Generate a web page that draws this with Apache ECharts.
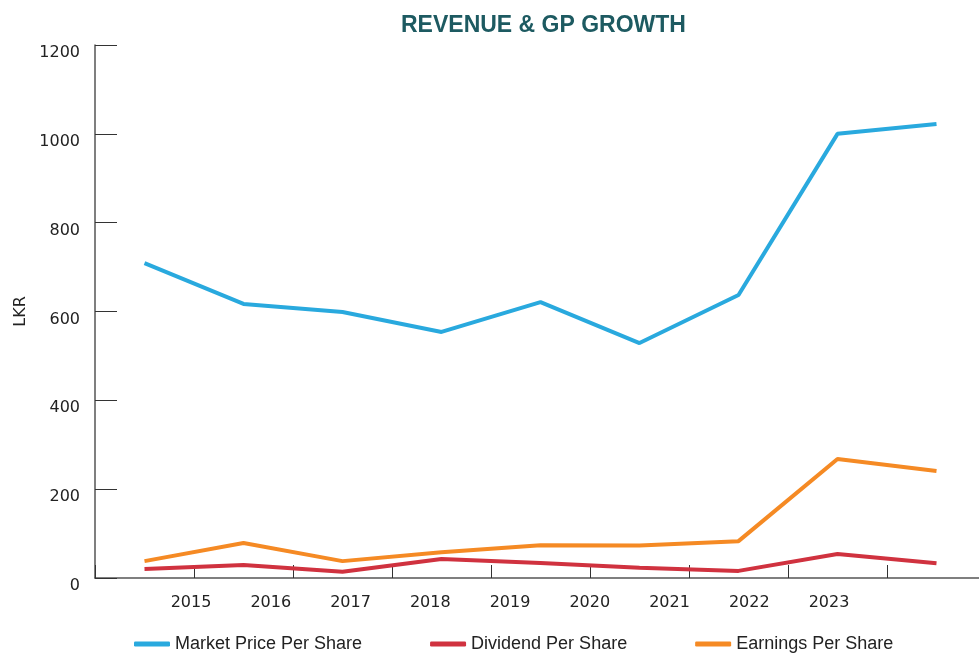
<!DOCTYPE html>
<html>
<head>
<meta charset="utf-8">
<script src="https://cdn.jsdelivr.net/npm/echarts@6/dist/echarts.min.js"></script>
<style>html,body{margin:0;padding:0;background:#fff;overflow:hidden;}#c{width:986px;height:654px;}</style>
</head>
<body>
<div id="c"></div>
<script>
const pointSlots = ['p1','p2','p3','p4','p5','p6','p7','p8','p9'];
const yearLabels = ['2015','2016','2017','2018','2019','2020','2021','2022','2023'];
const marketPrice = [709, 617, 599, 554, 621, 529, 637, 1000, 1022];
const dividend = [20, 29, 14, 43, 34, 23, 16, 54, 33];
const earnings = [38, 79, 38, 58, 74, 73, 83, 268, 241];
const seriesNames = ['Market Price Per Share', 'Dividend Per Share', 'Earnings Per Share'];
const yTicks = {min: 0, max: 1200, interval: 200};

const chart = echarts.init(document.getElementById('c'), null, {renderer: 'canvas'});
const tickFont = 'DejaVu Sans';
chart.setOption({
  backgroundColor: '#ffffff',
  animation: false,
  title: {
    text: 'REVENUE & GP GROWTH',
    left: 396, top: 9,
    textStyle: {fontFamily: 'Liberation Sans', fontWeight: 'bold', fontSize: 23, color: '#1d5a61'}
  },
  legend: {
    top: 630, left: 129,
    itemWidth: 36, itemHeight: 5, itemGap: 68,
    icon: 'roundRect',
    textStyle: {fontFamily: 'Liberation Sans', fontSize: 18, color: '#222'},
    data: seriesNames
  },
  grid: [
    {left: 95, right: 0, top: 45, bottom: 76},
    {left: 191, width: 638, top: 45, bottom: 76}
  ],
  xAxis: [
    {
      type: 'category', gridIndex: 0, data: pointSlots, boundaryGap: true,
      axisLine: {lineStyle: {color: '#555', width: 1.5}},
      axisTick: {show: true, interval: 0, inside: true, length: 13, lineStyle: {color: '#333', width: 1}},
      axisLabel: {show: true, interval: 0, color: 'rgba(0,0,0,0)', formatter: () => ''}
    },
    {
      type: 'category', gridIndex: 1, data: yearLabels, boundaryGap: false,
      axisLine: {show: false}, axisTick: {show: false},
      axisLabel: {margin: 17, fontFamily: tickFont, fontSize: 16, color: '#222', interval: 0}
    }
  ],
  yAxis: [
    {
      type: 'value', gridIndex: 0, min: yTicks.min, max: yTicks.max, interval: yTicks.interval,
      name: 'LKR', nameLocation: 'middle', nameGap: 55, nameRotate: 90,
      nameTextStyle: {fontFamily: tickFont, fontSize: 16, color: '#222'},
      axisLine: {show: true, lineStyle: {color: '#555', width: 1.5}},
      axisTick: {show: true, inside: true, length: 22, lineStyle: {color: '#333', width: 1}},
      splitLine: {show: false},
      axisLabel: {margin: 15, fontFamily: tickFont, fontSize: 16, color: '#222',
                  verticalAlign: 'top', lineHeight: 16, formatter: v => String(v)}
    },
    {
      type: 'value', gridIndex: 1, min: 0, max: 1200, show: false
    }
  ],
  series: [
    {name: seriesNames[0], type: 'line', data: marketPrice, xAxisIndex: 0, yAxisIndex: 0,
     symbol: 'none', lineStyle: {width: 4, color: '#29a9de'}, itemStyle: {color: '#29a9de'}},
    {name: seriesNames[1], type: 'line', data: dividend, xAxisIndex: 0, yAxisIndex: 0,
     symbol: 'none', lineStyle: {width: 4, color: '#d0323f'}, itemStyle: {color: '#d0323f'}},
    {name: seriesNames[2], type: 'line', data: earnings, xAxisIndex: 0, yAxisIndex: 0,
     symbol: 'none', lineStyle: {width: 4, color: '#f58a24'}, itemStyle: {color: '#f58a24'}}
  ]
});
</script>
</body>
</html>
